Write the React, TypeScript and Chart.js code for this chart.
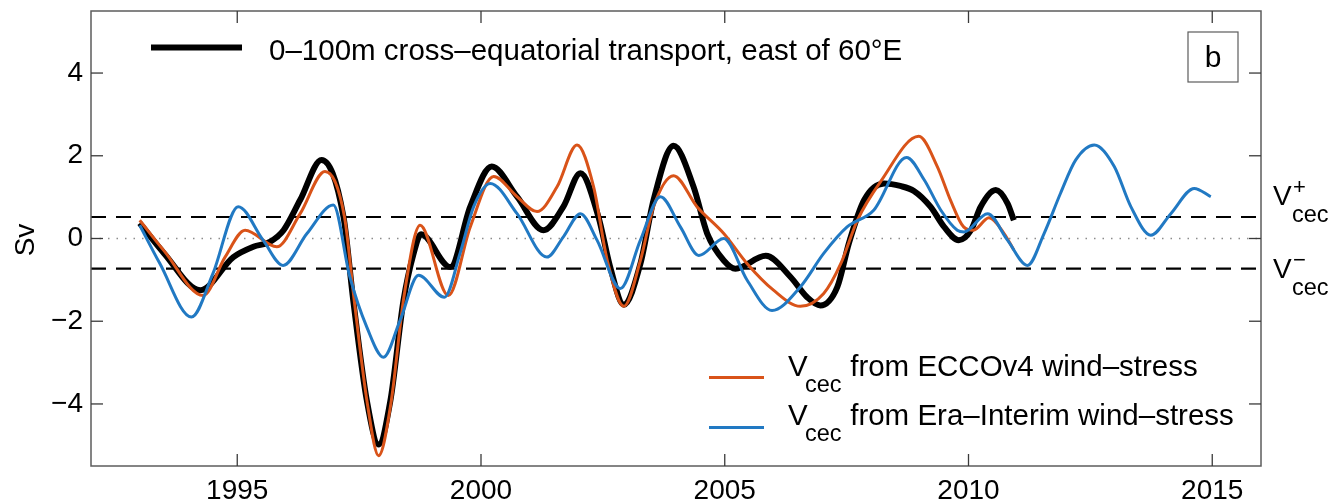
import React, { useEffect, useRef } from "react";
import { Chart, registerables } from "chart.js";

Chart.register(...registerables);

// ---- data ----
const transportYears = [
  1993.0, 1993.5, 1994.24, 1994.92, 1995.33, 1995.67, 1995.95, 1996.29, 1996.73, 1997.18,
  1997.38, 1997.66, 1997.9, 1998.14, 1998.41, 1998.61, 1998.77, 1999.37, 1999.78, 2000.22,
  2000.74, 2001.28, 2001.69, 2002.04, 2002.41, 2002.65, 2002.93, 2003.27, 2003.54, 2003.95,
  2004.36, 2004.64, 2004.98, 2005.22, 2005.84, 2006.35, 2006.69, 2006.96, 2007.31, 2007.55,
  2007.86, 2008.27, 2008.6, 2008.88, 2009.22, 2009.5, 2009.8, 2010.05, 2010.25, 2010.56,
  2010.8, 2010.93,
];
const transportValues = [
  0.37, -0.36, -1.25, -0.45, -0.2, -0.08, 0.2, 0.93, 1.9, 0.52,
  -1.5, -3.93, -4.98, -3.93, -1.5, -0.4, 0.1, -0.69, 0.77, 1.74,
  1.01, 0.2, 0.77, 1.58, 0.52, -0.69, -1.6, -0.61, 0.93, 2.24,
  1.25, 0.12, -0.53, -0.73, -0.42, -0.93, -1.42, -1.62, -1.17, -0.1,
  0.93, 1.33, 1.27, 1.15, 0.77, 0.28, -0.04, 0.2, 0.77, 1.17,
  0.85, 0.44,
];

const eccoYears = [
  1993.0, 1993.5, 1994.3, 1994.75, 1995.16, 1995.81, 1996.29, 1996.8, 1997.2, 1997.4,
  1997.67, 1997.9, 1998.15, 1998.42, 1998.75, 1999.33, 1999.78, 2000.26, 2000.74, 2001.15,
  2001.56, 2001.97, 2002.31, 2002.59, 2002.93, 2003.27, 2003.54, 2003.95, 2004.43, 2004.98,
  2005.46, 2006.0, 2006.55, 2007.03, 2007.38, 2007.72, 2008.2, 2008.98, 2009.36, 2009.63,
  2009.9, 2010.1, 2010.42, 2010.73, 2010.93,
];
const eccoValues = [
  0.44, -0.3, -1.38, -0.45, 0.2, -0.2, 0.6, 1.62, 0.52, -1.5,
  -4.0, -5.25, -4.0, -1.4, 0.32, -1.38, 0.28, 1.5, 1.01, 0.65,
  1.25, 2.26, 1.25, -0.53, -1.64, -0.53, 0.77, 1.52, 0.77, 0.12,
  -0.61, -1.25, -1.64, -1.33, -0.61, 0.44, 1.38, 2.47, 1.74, 0.93,
  0.28, 0.2, 0.5, 0.12, -0.28,
];

const eraYears = [
  1993.0, 1993.41, 1994.06, 1994.5, 1995.02, 1995.53, 1995.94, 1996.43, 1996.97, 1997.31,
  1997.66, 1998.0, 1998.34, 1998.72, 1999.25, 1999.57, 1999.85, 2000.19, 2000.74, 2001.35,
  2001.69, 2002.04, 2002.38, 2002.86, 2003.27, 2003.68, 2004.09, 2004.47, 2004.98, 2005.46,
  2005.97, 2006.55, 2007.03, 2007.51, 2008.06, 2008.73, 2009.09, 2009.43, 2009.77, 2009.91,
  2010.39, 2010.8, 2011.21, 2011.55, 2011.89, 2012.2, 2012.58, 2012.99, 2013.33, 2013.74,
  2014.15, 2014.63, 2014.97,
];
const eraValues = [
  0.32, -0.6, -1.9, -0.85, 0.77, -0.04, -0.65, 0.12, 0.81, -0.93,
  -2.15, -2.87, -1.98, -0.89, -1.42, -0.36, 0.77, 1.33, 0.6, -0.45,
  0.04, 0.6, -0.04, -1.21, -0.04, 1.01, 0.28, -0.41, 0.0, -1.01,
  -1.74, -1.17, -0.36, 0.28, 0.69, 1.96, 1.42, 0.69, 0.2, 0.16,
  0.6, -0.04, -0.65, 0.12, 1.1, 1.9, 2.26, 1.74, 0.77, 0.08,
  0.6, 1.21, 1.01,
];

const thresholdYears = [1992, 2016];
const vPlusValues = [0.52, 0.52];
const vMinusValues = [-0.73, -0.73];
const zeroValues = [0, 0];

const xTickYears = [1995, 2000, 2005, 2010, 2015];
const yTickValues = [-4, -2, 0, 2, 4];

const transportLabel = "0–100m cross–equatorial transport, east of 60°E";
const eccoLabelRest = " from ECCOv4 wind–stress";
const eraLabelRest = " from Era–Interim wind–stress";
const panelLetter = "b";
const yAxisTitle = "Sv";

const FONT = "'Liberation Sans', Arial, Helvetica, sans-serif";
const BLACK = "#000000";
const ORANGE = "#D95319";
const BLUE = "#2179C3";

const pts = (xs: number[], ys: number[]) => xs.map((x, i) => ({ x, y: ys[i] }));

const decorPlugin = {
  id: "decor",
  afterDraw(chart: any) {
    const { ctx, chartArea: a, scales } = chart;
    const xs = scales.x;
    const ys = scales.y;
    ctx.save();
    const seg = (x1: number, y1: number, x2: number, y2: number) => {
      ctx.beginPath();
      ctx.moveTo(x1, y1);
      ctx.lineTo(x2, y2);
      ctx.stroke();
    };
    // axes box
    ctx.strokeStyle = "#5c5c5c";
    ctx.lineWidth = 1.5;
    ctx.strokeRect(a.left, a.top, a.right - a.left, a.bottom - a.top);
    // inward ticks
    const tl = 12;
    ctx.strokeStyle = "#3a3a3a";
    ctx.lineWidth = 1.3;
    xTickYears.forEach((v) => {
      const px = xs.getPixelForValue(v);
      seg(px, a.bottom, px, a.bottom - tl);
      seg(px, a.top, px, a.top + tl);
    });
    yTickValues.forEach((v) => {
      const py = ys.getPixelForValue(v);
      seg(a.left, py, a.left + tl, py);
      seg(a.right, py, a.right - tl, py);
    });

    ctx.fillStyle = "#000";
    ctx.textBaseline = "alphabetic";
    ctx.textAlign = "left";

    // top legend
    ctx.strokeStyle = BLACK;
    ctx.lineWidth = 6;
    ctx.lineCap = "butt";
    seg(151, 47.5, 242, 47.5);
    ctx.font = `29.5px ${FONT}`;
    ctx.fillText(transportLabel, 269, 60);

    // panel letter box
    ctx.strokeStyle = "#5c5c5c";
    ctx.lineWidth = 1.2;
    ctx.strokeRect(1188, 32, 50, 50);
    ctx.textAlign = "center";
    ctx.font = `30px ${FONT}`;
    ctx.fillText(panelLetter, 1213, 67);
    ctx.textAlign = "left";

    // bottom-right legend
    const entry = (color: string, lineY: number, base: number, rest: string) => {
      ctx.strokeStyle = color;
      ctx.lineWidth = 3.2;
      seg(709, lineY, 764, lineY);
      ctx.font = `29.5px ${FONT}`;
      ctx.fillText("V", 788, base);
      ctx.font = `23.5px ${FONT}`;
      ctx.fillText("cec", 805, base + 16);
      ctx.font = `29.5px ${FONT}`;
      ctx.fillText(rest, 842, base);
    };
    entry(ORANGE, 377.5, 376, eccoLabelRest);
    entry(BLUE, 427.5, 425, eraLabelRest);

    // right side threshold labels
    const thr = (value: number, sup: string) => {
      const py = ys.getPixelForValue(value);
      const base = py < a.top + (a.bottom - a.top) / 2 ? 205 : 278;
      ctx.font = `28px ${FONT}`;
      ctx.fillText("V", 1273, base);
      ctx.font = `23.5px ${FONT}`;
      ctx.fillText("cec", 1292, base + 17);
      ctx.font = `22px ${FONT}`;
      ctx.fillText(sup, 1293, base - 11);
    };
    thr(vPlusValues[0], "+");
    thr(vMinusValues[0], "−");

    // y axis title
    ctx.save();
    ctx.translate(34, 240);
    ctx.rotate(-Math.PI / 2);
    ctx.textAlign = "center";
    ctx.font = `28px ${FONT}`;
    ctx.fillText(yAxisTitle, 0, 0);
    ctx.restore();

    ctx.restore();
  },
};

export default function App() {
  const ref = useRef<HTMLCanvasElement | null>(null);
  useEffect(() => {
    if (!ref.current) return;
    const chart = new Chart(ref.current, {
      type: "line",
      data: {
        datasets: [
          {
            label: "zero",
            data: pts(thresholdYears, zeroValues),
            borderColor: "#8c8c8c",
            borderWidth: 1.5,
            borderDash: [1.5, 7],
            pointRadius: 0,
            order: 10,
          },
          {
            label: "V+",
            data: pts(thresholdYears, vPlusValues),
            borderColor: "#000",
            borderWidth: 2.2,
            borderDash: [15, 10],
            pointRadius: 0,
            order: 9,
          },
          {
            label: "V-",
            data: pts(thresholdYears, vMinusValues),
            borderColor: "#000",
            borderWidth: 2.2,
            borderDash: [15, 10],
            pointRadius: 0,
            order: 8,
          },
          {
            label: transportLabel,
            data: pts(transportYears, transportValues),
            borderColor: BLACK,
            borderWidth: 6,
            pointRadius: 0,
            cubicInterpolationMode: "monotone",
            borderJoinStyle: "round",
            order: 3,
          },
          {
            label: "ECCOv4",
            data: pts(eccoYears, eccoValues),
            borderColor: ORANGE,
            borderWidth: 3,
            pointRadius: 0,
            cubicInterpolationMode: "monotone",
            borderJoinStyle: "round",
            order: 2,
          },
          {
            label: "Era-Interim",
            data: pts(eraYears, eraValues),
            borderColor: BLUE,
            borderWidth: 3,
            pointRadius: 0,
            cubicInterpolationMode: "monotone",
            borderJoinStyle: "round",
            order: 1,
          },
        ],
      },
      options: {
        responsive: false,
        animation: false,
        layout: { padding: { top: 11, right: 71, left: 0, bottom: 0 } },
        plugins: { legend: { display: false }, tooltip: { enabled: false } },
        scales: {
          x: {
            type: "linear",
            min: 1992,
            max: 2016,
            grid: { display: false, drawTicks: false },
            border: { display: false },
            afterBuildTicks: (s: any) => {
              s.ticks = xTickYears.map((v) => ({ value: v }));
            },
            afterFit: (s: any) => {
              s.height = 37;
              s.paddingLeft = 0;
              s.paddingRight = 0;
            },
            ticks: {
              font: { family: FONT, size: 28 },
              color: "#000",
              padding: 8,
              maxRotation: 0,
              callback: (v: any) => String(v),
            },
          },
          y: {
            type: "linear",
            min: -5.5,
            max: 5.5,
            grid: { display: false, drawTicks: false },
            border: { display: false },
            afterBuildTicks: (s: any) => {
              s.ticks = yTickValues.map((v) => ({ value: v }));
            },
            afterFit: (s: any) => {
              s.width = 91;
              s.paddingTop = 0;
              s.paddingBottom = 0;
            },
            ticks: {
              font: { family: FONT, size: 28 },
              color: "#000",
              padding: 8,
              callback: (v: any) => (v < 0 ? "−" + Math.abs(v) : String(v)),
            },
          },
        },
      },
      plugins: [decorPlugin],
    });
    return () => chart.destroy();
  }, []);
  return (
    <div style={{ position: "fixed", left: 0, top: 0, width: 1332, height: 503, background: "#fff" }}>
      <canvas ref={ref} width={1332} height={503} style={{ display: "block" }} />
    </div>
  );
}
